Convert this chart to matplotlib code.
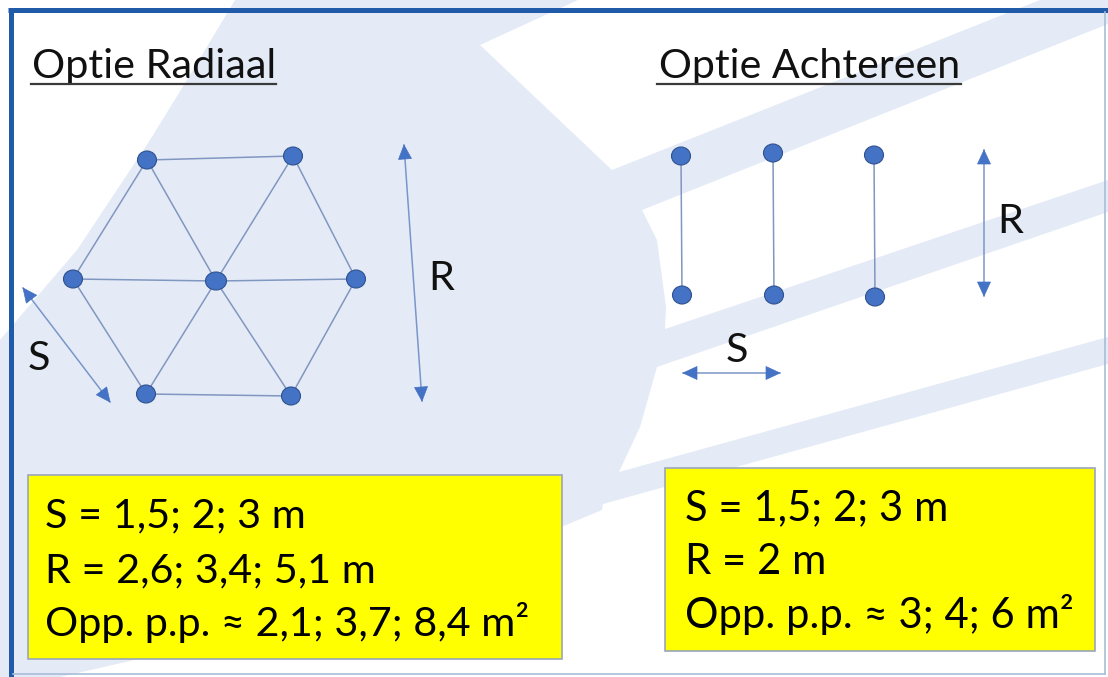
import numpy as np
import matplotlib as mpl
import matplotlib.pyplot as plt
from matplotlib.patches import Polygon, Rectangle, Ellipse

mpl.use('Agg')

W, H = 1108, 677

# --- content ---
titles = ["Optie Radiaal", "Optie Achtereen"]
radial_text = ["S = 1,5; 2; 3 m", "R = 2,6; 3,4; 5,1 m", "Opp. p.p. \u2248 2,1; 3,7; 8,4 m\u00b2"]
achter_text = ["S = 1,5; 2; 3 m", "R = 2 m", "Opp. p.p. \u2248 3; 4; 6 m\u00b2"]

# radial layout: node positions (px) and connections
node_names = ["TL", "TR", "L", "C", "R", "BL", "BR"]
node_x = [147, 293, 73, 216, 356, 146, 291]
node_y = [160, 156, 279, 281, 279, 394, 396]
edges = [("TL", "TR"), ("TR", "R"), ("R", "BR"), ("BR", "BL"), ("BL", "L"), ("L", "TL"),
         ("C", "TL"), ("C", "TR"), ("C", "L"), ("C", "R"), ("C", "BL"), ("C", "BR")]

# achtereen layout: three rows of two plants
row_x_top = [681, 773, 874]
row_x_bot = [682, 774, 875]
row_y_top = [156, 153, 155]
row_y_bot = [295, 295, 297]

# background watermark: white areas over light blue
white_areas = [
    [(0, 0), (235, 0), (190, 75), (150, 140), (77, 250), (17, 320), (0, 340)],
    [(480, 45), (612, 170), (1040, 0), (578, 0)],
    [(642, 210), (657, 240), (666, 307), (665, 329), (1108, 180), (1108, 24)],
    [(657, 367), (640, 427), (619, 472), (1108, 337), (1108, 212)],
    [(603, 504), (602, 510), (554, 530), (470, 563), (350, 605), (200, 645),
     (60, 677), (1108, 677), (1108, 364)],
]

LIGHT = '#e4ebf6'
NODE = '#4472c4'
NODE_EDGE = '#2f528f'
LINE = '#8196c0'
SHAFT = '#7a95c9'
FONT = 'Lato'

fig = plt.figure(figsize=(W / 100, H / 100), dpi=100)
ax = fig.add_axes([0, 0, 1, 1])
ax.set_xlim(0, W)
ax.set_ylim(H, 0)
ax.axis('off')

ax.add_patch(Rectangle((0, 0), W, H, color=LIGHT, zorder=0))
for pts in white_areas:
    ax.add_patch(Polygon(pts, closed=True, fc='white', ec='none', zorder=1))

# frame
ax.plot([8, W], [10, 10], color='#1f5ba8', lw=3.6, solid_capstyle='butt', zorder=2)
ax.plot([11, 11], [8, H], color='#1f5ba8', lw=3.6, solid_capstyle='butt', zorder=2)
ax.plot([1105, 1105], [12, 674], color='#a9bcd8', lw=1.2, zorder=2)
ax.plot([13, 1105], [674, 674], color='#a9bcd8', lw=1.2, zorder=2)

renderer = fig.canvas.get_renderer()


def fit_text(x, y, s, width, **kw):
    t = ax.text(x, y, s, fontsize=30, family=FONT, va='baseline', ha='left', zorder=6, **kw)
    bb = t.get_window_extent(renderer)
    t.set_fontsize(30 * width / bb.width)
    return t.get_fontsize()


def arrow(x0, y0, x1, y1, both=True):
    ax.plot([x0, x1], [y0, y1], color=SHAFT, lw=1.1, zorder=4)
    d = np.array([x1 - x0, y1 - y0], float)
    d /= np.hypot(*d)
    n = np.array([-d[1], d[0]])
    L, hw = 14, 6.5
    ends = [(np.array([x1, y1]), d)]
    if both:
        ends.append((np.array([x0, y0]), -d))
    for tip, dd in ends:
        base = tip - dd * L
        ax.add_patch(Polygon([tip, base + n * hw, base - n * hw], closed=True,
                             fc=NODE, ec=NODE, lw=0.5, zorder=5))


# titles with underline
fit_text(32, 78, titles[0], 244, color='#111111')
ax.plot([31, 276], [84, 84], color='#3a3a3a', lw=1.6, zorder=6)
fit_text(659, 78, titles[1], 301, color='#111111')
ax.plot([657, 961], [84, 84], color='#3a3a3a', lw=1.6, zorder=6)

# radial graph
pos = {n: (x, y) for n, x, y in zip(node_names, node_x, node_y)}
for a, b in edges:
    ax.plot([pos[a][0], pos[b][0]], [pos[a][1], pos[b][1]], color=LINE, lw=1.1, zorder=3)
for n in node_names:
    w = 21 if n == "C" else 19
    ax.add_patch(Ellipse(pos[n], w, 18, fc=NODE, ec=NODE_EDGE, lw=0.8, zorder=4))

arrow(404, 145, 422, 401)
arrow(23, 288, 110, 402)

# achtereen rows
for xt, xb, yt, yb in zip(row_x_top, row_x_bot, row_y_top, row_y_bot):
    ax.plot([xt, xb], [yt, yb], color=LINE, lw=1.1, zorder=3)
    ax.add_patch(Ellipse((xt, yt), 19, 18, fc=NODE, ec=NODE_EDGE, lw=0.8, zorder=4))
    ax.add_patch(Ellipse((xb, yb), 19, 18, fc=NODE, ec=NODE_EDGE, lw=0.8, zorder=4))

arrow(984, 150, 984, 296)
arrow(683, 373, 780, 373)

# yellow info boxes
ax.add_patch(Rectangle((28, 475), 534, 184, fc='#ffff00', ec='#9aa6ba', lw=1.2, zorder=5))
ax.add_patch(Rectangle((665, 468), 430, 183, fc='#ffff00', ec='#9aa6ba', lw=1.2, zorder=5))

fs = fit_text(45, 636, radial_text[2], 484, color='black')
for s, yb in zip(radial_text[:2], [527, 582]):
    ax.text(45, yb, s, fontsize=fs, family=FONT, va='baseline', color='black', zorder=6)
fs2 = fit_text(685, 628, achter_text[2], 387, color='black')
for s, yb in zip(achter_text[:2], [520, 574]):
    ax.text(685, yb, s, fontsize=fs2, family=FONT, va='baseline', color='black', zorder=6)

# dimension labels
for x, y, s in [(428, 290, "R"), (28, 370, "S"), (997, 233, "R"), (726, 362, "S")]:
    ax.text(x, y, s, fontsize=fs, family=FONT, va='baseline', color='#111111', zorder=6)

fig.savefig('out.png', dpi=100)
